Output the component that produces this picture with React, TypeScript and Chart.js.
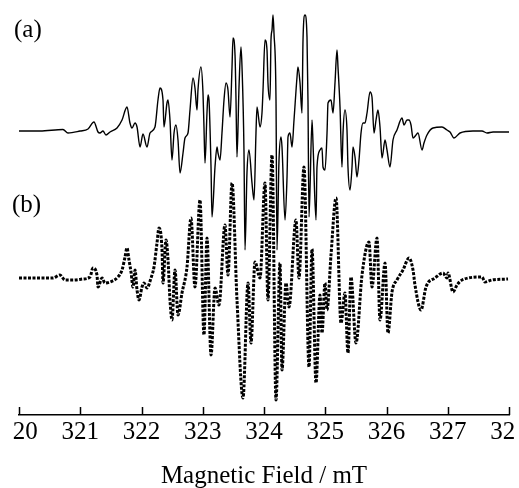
import React, { useEffect, useRef } from "react";
import { Chart, registerables } from "chart.js";

Chart.register(...registerables);

// Magnetic field (mT) and signal (arb. units, relative to each baseline)
const FIELD_A = [320.000,320.343,320.718,320.800,320.996,321.127,321.224,321.290,321.322,321.371,321.420,321.486,321.600,321.682,321.763,321.812,321.845,321.894,321.927,321.976,322.024,322.090,322.139,322.220,322.269,322.302,322.351,322.367,322.416,322.433,322.465,322.498,322.531,322.563,322.596,322.629,322.678,322.710,322.759,322.792,322.841,322.873,322.906,322.922,322.971,323.004,323.020,323.037,323.069,323.086,323.102,323.135,323.151,323.200,323.233,323.249,323.282,323.314,323.347,323.380,323.412,323.445,323.478,323.494,323.527,323.543,323.559,323.592,323.624,323.641,323.673,323.690,323.722,323.755,323.804,323.837,323.869,323.886,323.935,323.967,323.984,324.016,324.049,324.065,324.098,324.114,324.131,324.147,324.163,324.196,324.212,324.245,324.278,324.294,324.343,324.376,324.392,324.424,324.457,324.490,324.539,324.555,324.588,324.620,324.637,324.669,324.702,324.718,324.735,324.784,324.800,324.849,324.865,324.914,324.947,324.963,324.996,325.029,325.045,325.094,325.127,325.159,325.192,325.208,325.241,325.273,325.290,325.322,325.355,325.371,325.404,325.437,325.453,325.486,325.518,325.551,325.584,325.616,325.649,325.682,325.731,325.763,325.796,325.829,325.861,325.894,325.927,325.976,326.008,326.057,326.106,326.171,326.253,326.286,326.335,326.367,326.400,326.433,326.482,326.514,326.580,326.612,326.661,326.759,326.906,326.988,327.037,327.102,327.200,327.412,327.559,327.641,327.739,328.000];
const SIGNAL_A = [0,0,1.5,-2,0,2,9,-1,-2,0,-4,-1,3,11,24,8,3,8,4,-16,-3,-16,-2,4,31,43,31,4,28,31,11,-29,-2,6,-9,-42,-22,-7,-2,21,53,43,21,41,64,38,4,-32,18,36,31,-36,-86,-36,-16,-22,-29,-2,31,48,41,14,64,93,76,31,-26,44,84,64,-19,-119,-42,-19,-52,-69,-2,24,4,18,41,91,81,48,31,91,101,116,98,31,-119,-29,-6,-16,-89,-46,-6,-2,-16,11,54,64,48,18,91,116,94,31,-86,11,-12,-89,-36,-19,-17,-36,-39,-2,28,31,18,48,81,64,24,-36,-2,21,1,-36,-59,-36,-16,-26,-46,-29,-2,8,8,18,39,34,-2,11,21,4,-27,-9,-19,-36,-9,1,13,6,11,11,6,-7,-4,-2,-19,-12,-4,3,4,1,-1,-7,-2,0,0,-2,-1,-1];

const FIELD_B = [320.000,320.555,320.669,320.751,320.882,321.045,321.159,321.208,321.273,321.290,321.355,321.404,321.486,321.616,321.682,321.731,321.763,321.796,321.829,321.861,321.894,321.927,321.959,322.008,322.041,322.090,322.155,322.204,322.253,322.286,322.335,322.351,322.400,322.433,322.465,322.498,322.547,322.596,322.661,322.743,322.808,322.873,322.955,323.020,323.069,323.135,323.200,323.265,323.363,323.412,323.478,323.559,323.657,323.739,323.788,323.853,323.935,324.016,324.065,324.131,324.196,324.261,324.294,324.359,324.408,324.522,324.571,324.653,324.735,324.784,324.849,324.914,324.947,324.996,325.029,325.094,325.176,325.257,325.322,325.371,325.420,325.502,325.600,325.714,325.763,325.845,325.894,325.976,326.024,326.090,326.171,326.269,326.367,326.433,326.465,326.563,326.645,326.792,326.922,326.988,327.004,327.086,327.151,327.233,327.559,327.608,327.722,327.984];
const SIGNAL_B = [1,1,4,-1,-1,0,2,11,4,-8,1,-4,-3,2,9,22,31,19,7,-8,9,-11,-21,-8,-4,-9,1,12,36,51,29,-4,39,19,-21,-41,9,-36,-14,12,61,-8,79,-56,41,-76,-9,-26,54,4,96,-21,-119,-4,-64,17,1,96,-21,124,-121,16,-91,-4,-28,59,1,112,-88,30,-104,-16,-54,-4,-31,24,81,-44,-14,-74,2,-64,4,37,-8,41,-41,16,-54,-13,-1,9,21,9,-6,-31,-8,1,6,1,6,-13,-6,-1,2,-3,-1,0];

const X_TICKS = [320, 321, 322, 323, 324, 325, 326, 327, 328];
const PANEL_LABELS = ["(a)", "(b)"];
const X_TITLE = "Magnetic Field / mT";

// vertical stacking offsets of the two spectra (arb. units)
const OFFSET_A = 284;
const OFFSET_B = 136;

const SERIF = '"Liberation Serif", "Times New Roman", serif';

export default function App() {
  const ref = useRef<HTMLCanvasElement | null>(null);

  useEffect(() => {
    if (!ref.current) return;
    const dataA = FIELD_A.map((x, i) => ({ x, y: SIGNAL_A[i] + OFFSET_A }));
    const dataB = FIELD_B.map((x, i) => ({ x, y: SIGNAL_B[i] + OFFSET_B }));

    const decor = {
      id: "decor",
      afterDraw(chart: any) {
        const ctx = chart.ctx;
        const xs = chart.scales.x;
        const b = chart.chartArea.bottom;
        ctx.save();
        ctx.strokeStyle = "#000";
        ctx.lineWidth = 1.5;
        xs.ticks.forEach((t: any) => {
          const x = Math.round(xs.getPixelForValue(t.value)) + 0.5;
          ctx.beginPath();
          ctx.moveTo(x, b - 8);
          ctx.lineTo(x, b);
          ctx.stroke();
        });
        ctx.fillStyle = "#000";
        ctx.font = "25px " + SERIF;
        ctx.textBaseline = "alphabetic";
        ctx.textAlign = "left";
        ctx.fillText(PANEL_LABELS[0], 34, 37);
        ctx.fillText(PANEL_LABELS[1], 32, 212);
        ctx.restore();
      },
    };

    const chart = new Chart(ref.current, {
      type: "line",
      data: {
        datasets: [
          {
            data: dataA,
            borderColor: "#000",
            borderWidth: 1.4,
            pointRadius: 0,
            cubicInterpolationMode: "monotone",
            fill: false,
          },
          {
            data: dataB,
            borderColor: "#000",
            borderWidth: 3,
            borderDash: [3, 1.5],
            borderCapStyle: "butt",
            pointRadius: 0,
            cubicInterpolationMode: "monotone",
            fill: false,
          },
        ],
      },
      options: {
        animation: false,
        responsive: false,
        events: [],
        layout: { padding: { left: 39, right: 41, top: 0, bottom: 0 } },
        plugins: { legend: { display: false }, tooltip: { enabled: false } },
        scales: {
          x: {
            type: "linear",
            min: 320,
            max: 328,
            afterBuildTicks: (scale: any) => {
              scale.ticks = X_TICKS.map((v) => ({ value: v }));
            },
            grid: { display: false, drawTicks: false },
            border: { display: true, color: "#000", width: 1.5 },
            ticks: {
              color: "#000",
              padding: 2,
              maxRotation: 0,
              autoSkip: false,
              font: { family: SERIF, size: 25 },
              callback: (v: any) => String(v),
            },
            title: {
              display: true,
              text: X_TITLE,
              color: "#000",
              font: { family: SERIF, size: 25 },
              padding: { top: 12, bottom: 0 },
            },
          },
          y: { display: false, min: 0, max: 415 },
        },
      },
      plugins: [decor],
    });
    return () => chart.destroy();
  }, []);

  return (
    <div
      style={{
        position: "fixed",
        left: 12,
        top: 0,
        width: 504,
        height: 488,
        overflow: "hidden",
        background: "#fff",
      }}
    >
      <canvas
        ref={ref}
        width={570}
        height={491}
        style={{ position: "absolute", left: -32, top: 0, width: 570, height: 491 }}
      />
    </div>
  );
}
